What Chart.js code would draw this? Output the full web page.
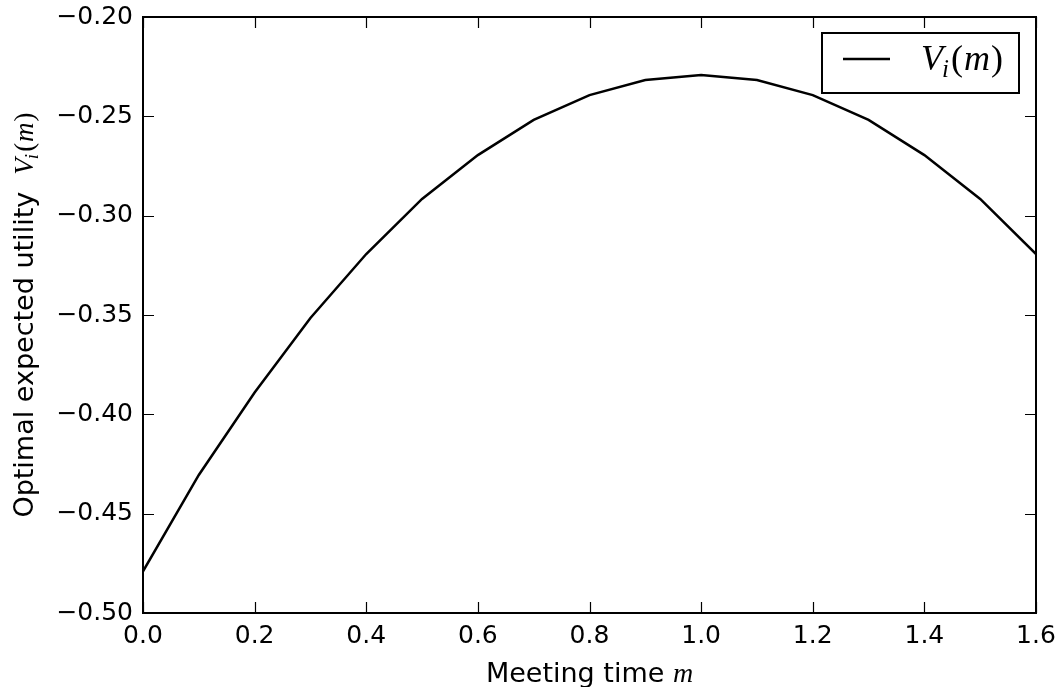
<!DOCTYPE html>
<html>
<head>
<meta charset="utf-8">
<script src="https://cdn.jsdelivr.net/npm/chart.js@4"></script>
<style>
  html, body { margin: 0; background: #fff; }
  #wrap { width: 1062px; height: 687px; }
</style>
</head>
<body>
<div id="wrap"><canvas id="myChart"></canvas></div>
<script>
// values
const meetingTimes = [0.0, 0.1, 0.2, 0.3, 0.4, 0.5, 0.6, 0.7, 0.8, 0.9, 1.0, 1.1, 1.2, 1.3, 1.4, 1.5, 1.6];
const utility = [-0.479, -0.4305, -0.389, -0.3515, -0.3193, -0.2916, -0.2695, -0.2518, -0.2393, -0.2317, -0.2292,
                 -0.2317, -0.2393, -0.2518, -0.2695, -0.2916, -0.3193];
const xTicks = [0.0, 0.2, 0.4, 0.6, 0.8, 1.0, 1.2, 1.4, 1.6];
const yTicks = [-0.50, -0.45, -0.40, -0.35, -0.30, -0.25, -0.20];
const seriesLabel = 'V_i(m)';

const SANS = '"DejaVu Sans", sans-serif';
const SERIF = '"Liberation Serif", "DejaVu Serif", serif';

// draw a row of text pieces with different fonts, left aligned at x
function drawPieces(ctx, pieces, x, y) {
  let cx = x;
  pieces.forEach(p => {
    ctx.font = p.font;
    ctx.fillText(p.text, cx, y + (p.dy || 0));
    cx += ctx.measureText(p.text).width + (p.gap || 0);
  });
}
function piecesWidth(ctx, pieces) {
  let w = 0;
  pieces.forEach(p => { ctx.font = p.font; w += ctx.measureText(p.text).width + (p.gap || 0); });
  return w;
}
function mathV(size) {
  return [
    { text: 'V', font: 'italic ' + size + 'px ' + SERIF, gap: -1 },
    { text: 'i', font: 'italic ' + Math.round(size * 0.7) + 'px ' + SERIF, dy: size * 0.2, gap: 2 },
    { text: '(', font: size + 'px ' + SERIF, gap: 1 },
    { text: 'm', font: 'italic ' + size + 'px ' + SERIF, gap: 1 },
    { text: ')', font: size + 'px ' + SERIF }
  ];
}

const framePlugin = {
  id: 'frame',
  afterDatasetsDraw(chart) {
    const { ctx, chartArea: a, scales } = chart;
    ctx.save();
    ctx.strokeStyle = '#000';
    // inward ticks on all four sides
    ctx.lineWidth = 1.2;
    ctx.beginPath();
    xTicks.forEach(v => {
      const px = Math.round(scales.x.getPixelForValue(v)) + 0.5;
      ctx.moveTo(px, a.bottom); ctx.lineTo(px, a.bottom - 11);
      ctx.moveTo(px, a.top); ctx.lineTo(px, a.top + 11);
    });
    yTicks.forEach(v => {
      const py = Math.round(scales.y.getPixelForValue(v)) + 0.5;
      ctx.moveTo(a.left, py); ctx.lineTo(a.left + 11, py);
      ctx.moveTo(a.right, py); ctx.lineTo(a.right - 11, py);
    });
    ctx.stroke();
    ctx.lineWidth = 2;
    ctx.strokeRect(a.left, a.top, a.right - a.left, a.bottom - a.top);

    // legend
    const lx = 822, ly = 33, lw = 197, lh = 60;
    ctx.fillStyle = '#fff';
    ctx.fillRect(lx, ly, lw, lh);
    ctx.strokeRect(lx, ly, lw, lh);
    ctx.lineWidth = 2.5;
    ctx.beginPath();
    ctx.moveTo(843, 59); ctx.lineTo(890, 59);
    ctx.stroke();
    ctx.fillStyle = '#000';
    ctx.textBaseline = 'alphabetic';
    drawPieces(ctx, mathV(36), 921, 70);

    // axis titles
    const xt = [
      { text: 'Meeting time ', font: '27px ' + SANS },
      { text: 'm', font: 'italic 28px ' + SERIF }
    ];
    const cxm = (a.left + a.right) / 2;
    drawPieces(ctx, xt, cxm - piecesWidth(ctx, xt) / 2, 682);

    const yt = [{ text: 'Optimal expected utility  ', font: '27px ' + SANS }].concat(mathV(27));
    ctx.translate(33, (a.top + a.bottom) / 2);
    ctx.rotate(-Math.PI / 2);
    drawPieces(ctx, yt, -piecesWidth(ctx, yt) / 2, 0);
    ctx.restore();
  }
};

const ctx = document.getElementById('myChart');

new Chart(ctx, {
  type: 'line',
  data: {
    datasets: [{
      label: seriesLabel,
      data: meetingTimes.map((m, i) => ({ x: m, y: utility[i] })),
      borderColor: '#000',
      borderWidth: 2.5,
      pointRadius: 0,
      tension: 0,
      fill: false
    }]
  },
  options: {
    responsive: true,
    maintainAspectRatio: false,
    animation: false,
    layout: { padding: { top: 17, right: 26, left: 0, bottom: 0 } },
    plugins: { legend: { display: false }, tooltip: { enabled: false } },
    scales: {
      x: {
        type: 'linear',
        min: 0, max: 1.6,
        afterBuildTicks: s => { s.ticks = xTicks.map(v => ({ value: v })); },
        afterFit: s => { s.height = 74; s.paddingLeft = 0; s.paddingRight = 0; },
        grid: { display: false, drawTicks: false },
        border: { display: false },
        ticks: {
          padding: 8,
          color: '#000',
          maxRotation: 0,
          font: { family: SANS, size: 25 },
          callback: v => v.toFixed(1)
        }
      },
      y: {
        min: -0.5, max: -0.2,
        afterBuildTicks: s => { s.ticks = yTicks.map(v => ({ value: v })); },
        afterFit: s => { s.width = 143; s.paddingTop = 0; s.paddingBottom = 0; },
        grid: { display: false, drawTicks: false },
        border: { display: false },
        ticks: {
          padding: 10,
          color: '#000',
          font: { family: SANS, size: 25 },
          callback: v => v.toFixed(2).replace('-', '\u2212')
        }
      }
    }
  },
  plugins: [framePlugin]
});
</script>
</body>
</html>
